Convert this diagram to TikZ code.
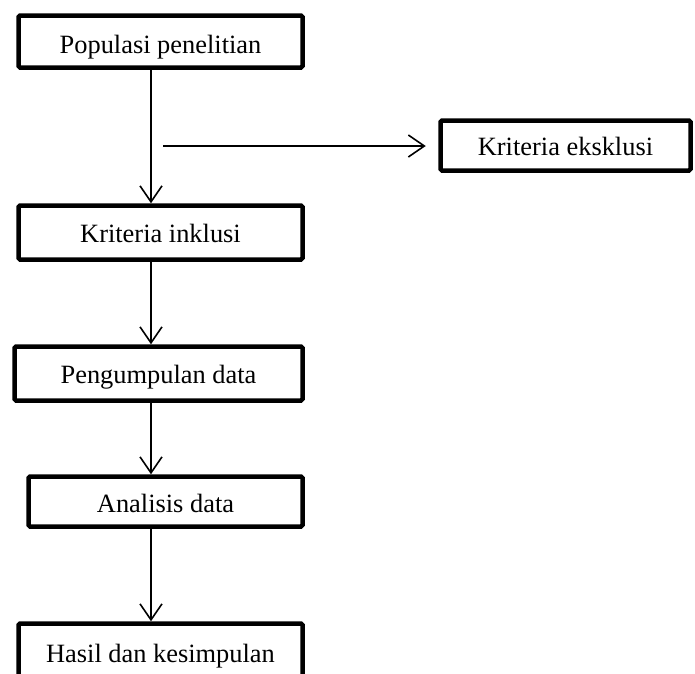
\documentclass[tikz,border=0pt]{standalone}
\usepackage{fontspec}
\setmainfont{Liberation Serif}
\usetikzlibrary{arrows.meta}
\begin{document}
\begin{tikzpicture}[x=1pt,y=-1pt,
        box/.style={draw,line width=4.5pt,rounded corners=1.5pt,inner sep=0pt,
            text depth=0pt,text height=20pt,font=\fontsize{26.4}{30}\selectfont},
        conn/.style={line width=1.6pt,-{Straight Barb[length=16pt,width=22pt]}}]
        \useasboundingbox (0,0) rectangle (695,673);
        \node[box,minimum width=284pt,minimum height=52pt,text height=23pt] (pop) at (160.5,41.5) {Populasi penelitian};
        \node[box,minimum width=284pt,minimum height=54pt] (inkl) at (160.5,232.5) {Kriteria inklusi};
        \node[box,minimum width=288pt,minimum height=54pt] (kump) at (158.5,373.5) {Pengumpulan data};
        \node[box,minimum width=274pt,minimum height=50pt,text height=21pt] (anal) at (165.5,501.5) {Analisis data};
        \node[box,minimum width=284pt,minimum height=54pt,text height=23pt] (hasil) at (160.5,650.5) {Hasil dan kesimpulan};
        \node[box,minimum width=250pt,minimum height=50pt,text height=19pt] (eks) at (565.5,145.5) {Kriteria eksklusi};
        \coordinate (col) at (151,0);
        \coordinate (split) at (163,146);
        \foreach \a/\b in {pop/inkl,inkl/kump,kump/anal,anal/hasil}
            \draw[conn] (\a.south -| col) -- (\b.north -| col);
        \draw[conn,shorten >=12.5pt] (split) -- (split -| eks.west);
    \end{tikzpicture}
\end{document}
